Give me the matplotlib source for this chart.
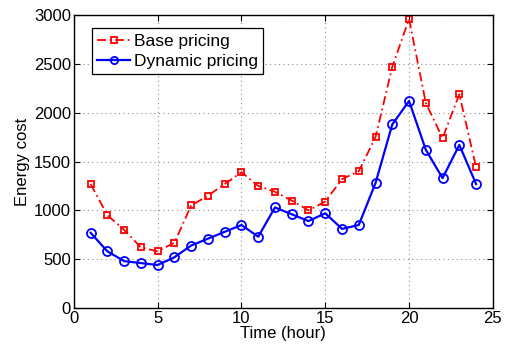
import numpy as np
import matplotlib
matplotlib.use("Agg")
from matplotlib import pyplot as plt

plt.rcParams['font.family'] = ['Liberation Sans', 'DejaVu Sans']

hours = np.arange(1, 25)
base_cost = [1270, 950, 800, 620, 580, 670, 1050, 1150, 1270, 1390, 1250, 1190,
             1100, 1000, 1090, 1320, 1400, 1750, 2470, 2960, 2100, 1740, 2190, 1440]
dynamic_cost = [770, 580, 480, 460, 440, 520, 640, 710, 780, 850, 730, 1030,
                960, 890, 970, 810, 850, 1280, 1880, 2120, 1620, 1330, 1670, 1270]

fig = plt.figure(figsize=(5.06, 3.5), dpi=100)
ax = fig.add_axes([0.146, 0.12, 0.828, 0.837])

ax.plot(hours, base_cost, color='#ff0000', linestyle=(0, (5, 2, 1, 2)), linewidth=1.3,
        marker='s', markersize=5, markerfacecolor='none', markeredgewidth=1.3,
        label='Base pricing')
ax.plot(hours, dynamic_cost, color='#0000ff', linestyle='-', linewidth=1.6,
        marker='o', markersize=6.5, markerfacecolor='none', markeredgewidth=1.3,
        label='Dynamic pricing')

ax.set_xlim(0, 25)
ax.set_ylim(0, 3000)
ax.set_xticks([0, 5, 10, 15, 20, 25])
ax.set_yticks(np.arange(0, 3001, 500))
ax.grid(True, linestyle=(0, (1, 3)), color='#909090', linewidth=0.8)
ax.tick_params(direction='in', labelsize=12, length=4, pad=2, top=True, right=True)
for s in ax.spines.values():
    s.set_linewidth(1.0)

ax.set_xlabel('Time (hour)', fontsize=12, labelpad=0)
ax.set_ylabel('Energy cost', fontsize=12, labelpad=3)

leg = ax.legend(loc='upper left', bbox_to_anchor=(0.043, 0.955), fontsize=12.5,
                fancybox=False, framealpha=1, edgecolor='black',
                handlelength=1.9, handletextpad=0.2, borderpad=0.3,
                labelspacing=0.3, borderaxespad=0, markerscale=0.8)
leg.get_frame().set_linewidth(0.9)

fig.savefig('out.png', dpi=100)
